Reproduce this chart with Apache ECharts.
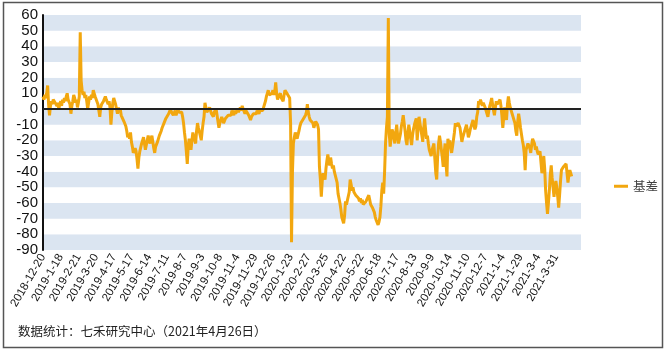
<!DOCTYPE html>
<html>
<head>
<meta charset="utf-8">
<script src="https://cdn.jsdelivr.net/npm/echarts@6/dist/echarts.min.js"></script>
<style>
html,body{margin:0;padding:0;background:#fff;}
#c{width:666px;height:352px;}
</style>
</head>
<body>
<div id="c"></div>
<script>
var seriesName = '基差';
var footNote = '数据统计：七禾研究中心（2021年4月26日）';
var tickLabels = ['2018-12-20','2019-1-18','2019-2-21','2019-3-20','2019-4-17','2019-5-17','2019-6-14','2019-7-11','2019-8-7','2019-9-3','2019-10-8','2019-11-4','2019-11-29','2019-12-26','2020-1-23','2020-2-27','2020-3-25','2020-4-22','2020-5-22','2020-6-18','2020-7-17','2020-8-13','2020-9-9','2020-10-14','2020-11-10','2020-12-7','2021-1-4','2021-1-29','2021-3-4','2021-3-31'];
var tickStep = 19;
var categoryCount = 579;
var basis = [
8,6,9,7,10,15,3,-4,2,5,3,6,7,4,5,2,4,0,3,5,
2,6,4,7,5,8,10,6,7,3,-3,2,5,9,7,4,6,1,4,8,
49,18,12,9,11,7,9,5,0,4,8,6,9,7,12,10,8,9,7,3,
-1,-5,1,3,2,5,4,8,6,7,3,5,1,-10,-2,4,7,5,3,0,
-3,1,-2,0,-4,-3,-5,-8,-7,-11,-14,-18,-16,-19,-15,-21,-24,-28,-27,-25,
-27,-32,-38,-31,-27,-26,-22,-20,-18,-22,-26,-23,-20,-17,-20,-22,-19,-17,-21,-25,
-28,-24,-23,-21,-19,-17,-16,-14,-12,-11,-9,-8,-6,-7,-5,-3,-2,0,-2,-1,
-4,-3,-1,-4,-2,0,-2,-1,-3,-2,-5,-9,-15,-20,-27,-35,-24,-19,-22,-26,
-20,-15,-18,-20,-22,-14,-9,-12,-13,-17,-20,-14,-9,-5,4,1,-2,-1,-3,1,
-1,-3,-2,-5,-2,-1,0,-4,-8,-12,-9,-7,-5,-7,-9,-8,-6,-7,-6,-4,
-5,-3,-4,-1,-2,-4,-1,-3,-2,0,-2,-1,1,-1,2,0,-1,-3,-1,0,
-2,-4,-5,-7,-5,-4,-3,-2,-4,-3,-1,-2,-3,-1,0,-2,-1,1,3,5,
8,10,12,9,10,8,10,12,9,11,17,10,6,8,9,10,7,8,5,9,
12,11,10,11,10,7,-9,-85,-40,-22,-18,-15,-17,-19,-20,-14,-11,-9,-10,-7,
-8,-6,-4,-2,3,-2,-5,-7,-6,-8,-9,-12,-10,-8,-7,-10,-13,-37,-45,-56,
-46,-41,-43,-45,-38,-33,-29,-33,-36,-31,-35,-38,-36,-40,-39,-41,-47,-54,-57,-60,
-64,-69,-71,-73,-68,-59,-61,-60,-62,-53,-45,-48,-52,-50,-53,-52,-55,-56,-54,-57,
-59,-57,-60,-58,-61,-60,-62,-59,-60,-58,-55,-58,-61,-60,-63,-64,-66,-69,-71,-72,
-74,-72,-69,-62,-52,-47,-54,-40,-22,-12,-5,58,-16,-24,-18,-13,-15,-19,-22,-15,
-10,-17,-22,-19,-16,-11,-8,-4,-9,-14,-20,-23,-16,-10,-14,-19,-23,-17,-13,-10,
-8,-6,-20,-12,-5,-9,-13,-17,-21,-12,-6,-13,-19,-17,-22,-26,-28,-30,-26,-24,
-22,-32,-41,-45,-30,-22,-17,-21,-26,-31,-37,-28,-22,-35,-43,-19,-22,-20,-25,-28,
-24,-23,-15,-9,-11,-12,-9,-10,-12,-13,-21,-18,-16,-14,-12,-10,-14,-18,-16,-13,
-11,-9,-7,-10,-13,-11,-5,-2,5,3,6,4,2,4,3,1,-1,-3,-5,-1,
2,4,7,3,-1,-4,1,5,3,2,4,6,2,-4,-12,-5,1,-2,-7,3,
8,4,1,-1,-3,-5,-7,-9,-14,-17,-8,-3,-7,-12,-16,-20,-23,-28,-39,-26,
-24,-22,-21,-25,-28,-23,-19,-18,-22,-26,-24,-27,-29,-30,-27,-34,-41,-35,-30,-38,
-52,-60,-67,-60,-52,-42,-36,-44,-50,-56,-50,-46,-50,-56,-63,-55,-46,-39,-38,-37,
-38,-36,-35,-34,-47,-42,-39,-41,-43
];

var categories = [];
for (var i = 0; i < categoryCount; i++) {
  var k = i / tickStep;
  categories.push(i % tickStep === 0 && k < tickLabels.length ? tickLabels[k] : '');
}

var chart = echarts.init(document.getElementById('c'), null, {renderer: 'canvas'});
chart.setOption({
  animation: false,
  backgroundColor: '#ffffff',
  grid: {left: 43, right: 85, top: 15, bottom: 102, containLabel: false},
  legend: {
    data: [seriesName],
    left: 609, top: 175,
    icon: 'rect', itemWidth: 14, itemHeight: 3, itemGap: 6,
    textStyle: {fontSize: 12.5, color: '#404040', fontFamily: 'Noto Sans CJK SC'}
  },
  xAxis: {
    type: 'category',
    data: categories,
    boundaryGap: false,
    axisLine: {show: false},
    axisTick: {show: false},
    splitLine: {show: false},
    axisLabel: {
      interval: tickStep - 1,
      rotate: 60,
      margin: 5,
      fontSize: 11.5,
      fontWeight: 'normal',
      color: '#111',
      fontFamily: 'Liberation Sans, Arial, sans-serif'
    }
  },
  yAxis: {
    type: 'value',
    min: -90, max: 60, interval: 10,
    axisLine: {show: true, lineStyle: {color: '#111', width: 2}},
    axisTick: {show: false},
    splitLine: {show: false},
    splitArea: {show: true, areaStyle: {color: ['#dbe5f1', '#ffffff']}},
    axisLabel: {fontSize: 15, color: '#111', margin: 5, fontFamily: 'Liberation Sans, Arial, sans-serif'}
  },
  series: [{
    name: seriesName,
    type: 'line',
    data: basis,
    showSymbol: false,
    symbol: 'none',
    lineStyle: {color: '#f2a70f', width: 3},
    itemStyle: {color: '#f2a70f'},
    markLine: {
      silent: true,
      symbol: ['none', 'none'],
      label: {show: false},
      lineStyle: {color: '#222', width: 2, type: 'solid'},
      data: [{yAxis: 0}]
    },
    z: 3
  }],
  graphic: [
    {type: 'rect', shape: {x: 3.5, y: 2.5, width: 659, height: 345}, style: {fill: 'none', stroke: '#555', lineWidth: 1.5}, z: 100},
    {type: 'text', left: 18, top: 325, style: {text: footNote, fontSize: 12.5, fill: '#222', fontFamily: 'Noto Sans CJK SC'}}
  ]
});
</script>
</body>
</html>
